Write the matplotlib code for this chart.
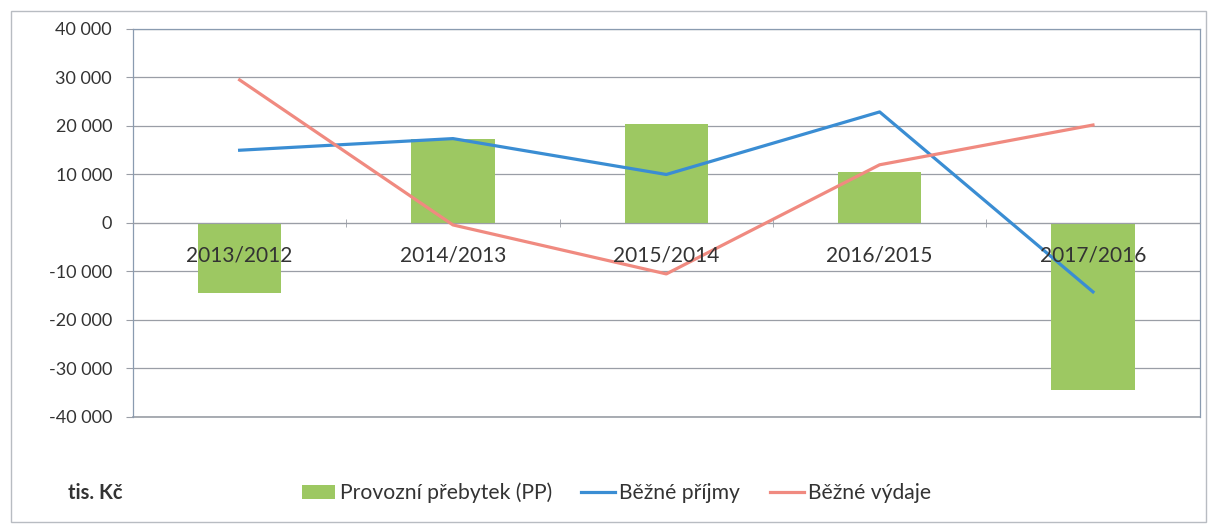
import matplotlib.pyplot as plt
from matplotlib.ticker import FuncFormatter, FixedLocator
from matplotlib.patches import Patch, Rectangle
from matplotlib.lines import Line2D

plt.rcParams['font.family'] = ['Lato', 'DejaVu Sans']

kategorie = ["2013/2012", "2014/2013", "2015/2014", "2016/2015", "2017/2016"]
provozni_prebytek = [-14500, 17300, 20400, 10600, -34500]
bezne_prijmy = [15000, 17400, 10000, 22900, -14200]
bezne_vydaje = [29500, -400, -10500, 12000, 20200]
y_ticks = [-40000, -30000, -20000, -10000, 0, 10000, 20000, 30000, 40000]

c_bar = "#9dc862"
c_prijmy = "#3a8dd3"
c_vydaje = "#f08a80"
c_grid = "#9a9ea6"
c_text = "#333333"

fig = plt.figure(figsize=(12.13, 5.24), dpi=100)
ax = fig.add_axes([0.1096, 0.2042, 0.8794, 0.7405])

x = list(range(len(kategorie)))
ax.bar(x, provozni_prebytek, width=0.39, color=c_bar, zorder=2)
ax.plot(x, bezne_prijmy, color=c_prijmy, lw=2.3, zorder=3)
ax.plot(x, bezne_vydaje, color=c_vydaje, lw=2.3, zorder=3)

ax.set_xlim(-0.5, len(kategorie) - 0.5)
ax.set_ylim(y_ticks[0], y_ticks[-1])
ax.set_yticks(y_ticks)
ax.yaxis.set_major_formatter(FuncFormatter(lambda v, p: f"{v:,.0f}".replace(",", " ")))
ax.tick_params(axis="y", length=5, width=0.8, color=c_grid, pad=10,
               labelsize=13, labelcolor=c_text)
ax.yaxis.grid(True, color=c_grid, lw=0.9)
ax.set_axisbelow(True)
# bottom edge of plot area (spine is moved to zero)
ax.axhline(y_ticks[0], color=c_grid, lw=1.2, clip_on=False, zorder=1)

# category axis crosses at zero, labels sit just under it, drawn over bars
ax.spines["bottom"].set_position(("data", 0))
ax.spines["bottom"].set_color(c_grid)
ax.set_xticks(x)
ax.set_xticklabels(kategorie)
ax.xaxis.set_minor_locator(FixedLocator([i + 0.5 for i in x[:-1]]))
ax.tick_params(axis="x", which="major", length=0, pad=16,
               labelsize=15, labelcolor=c_text)
ax.tick_params(axis="x", which="minor", length=6, direction="inout", color=c_grid)
ax.xaxis.set_zorder(4)
for side in ["left", "right", "top"]:
    ax.spines[side].set_color("#8a9bb0")
    ax.spines[side].set_linewidth(0.9)

handles = [
    Patch(facecolor=c_bar, label="Provozní přebytek (PP)"),
    Line2D([0], [0], color=c_prijmy, lw=2.3, label="Běžné příjmy"),
    Line2D([0], [0], color=c_vydaje, lw=2.3, label="Běžné výdaje"),
]
fig.legend(handles=handles, loc="center", bbox_to_anchor=(0.508, 0.059), ncol=3,
           frameon=False, fontsize=15.2, handlelength=1.6, handleheight=0.7,
           handletextpad=0.2, columnspacing=1.4, labelcolor=c_text)

fig.text(0.101, 0.059, "tis. Kč", ha="right", va="center", fontsize=14.5,
         fontweight="bold", color=c_text)

# outer chart border
fig.add_artist(Rectangle((0.009, 0.004), 0.985, 0.975, transform=fig.transFigure,
                         fill=False, edgecolor="#b8bcc2", lw=1.0))

fig.savefig("out.png", dpi=100)
